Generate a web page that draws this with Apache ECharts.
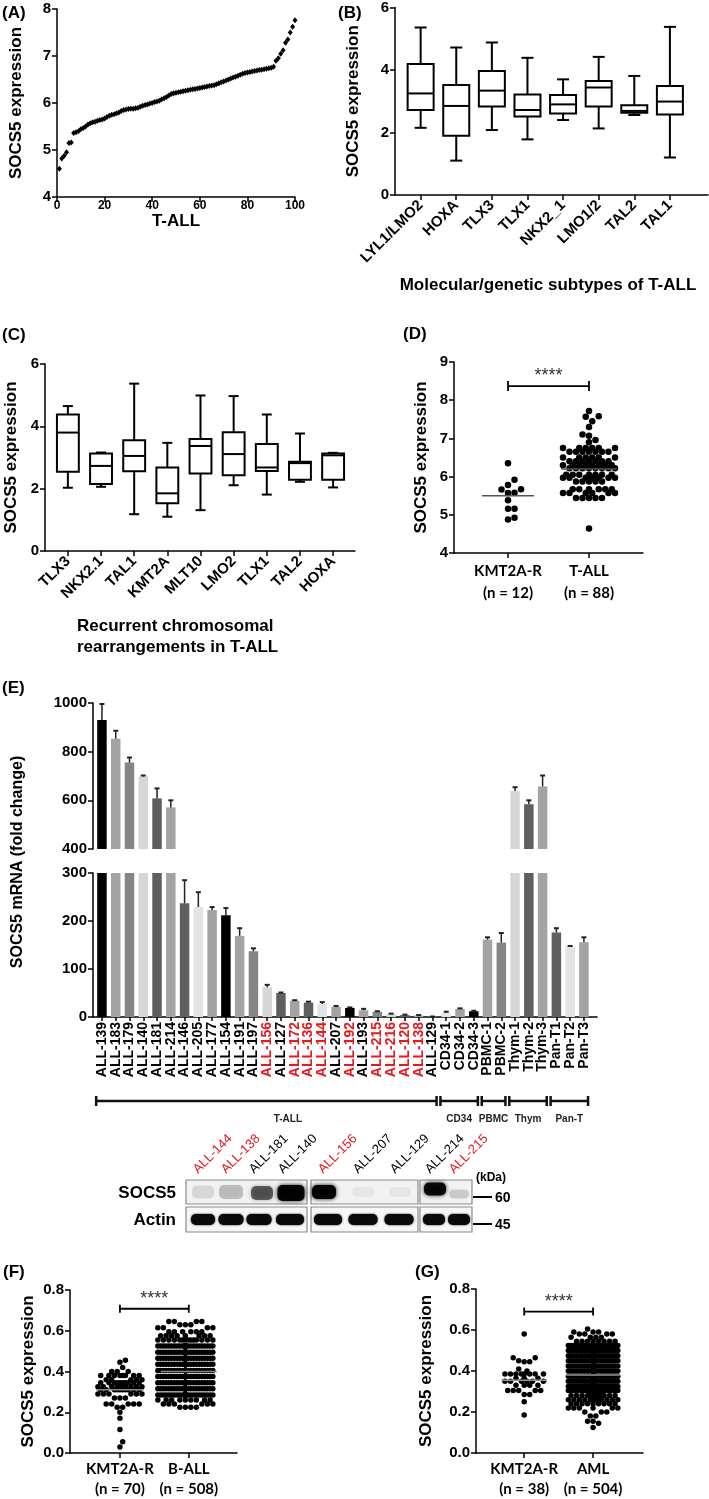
<!DOCTYPE html>
<html><head><meta charset="utf-8">
<script src="https://cdn.jsdelivr.net/npm/echarts@6/dist/echarts.min.js"></script>
<style>html,body{margin:0;padding:0;background:#fff}#c{width:709px;height:1499px}</style>
</head><body><div id="c"></div>
<script>
// ================= DATA =================
// (A) sorted SOCS5 expression, 100 T-ALL samples
const aValues = [4.60,4.82,4.88,4.95,5.15,5.16,5.36,5.38,5.40,5.44,
 5.47,5.50,5.54,5.57,5.59,5.60,5.62,5.64,5.65,5.67,
 5.70,5.73,5.75,5.76,5.78,5.80,5.83,5.85,5.86,5.87,
 5.88,5.88,5.89,5.90,5.92,5.94,5.96,5.97,5.99,6.00,
 6.02,6.03,6.05,6.08,6.10,6.13,6.16,6.19,6.21,6.22,
 6.23,6.24,6.25,6.26,6.27,6.28,6.29,6.30,6.31,6.32,
 6.33,6.34,6.35,6.36,6.37,6.38,6.40,6.42,6.44,6.46,
 6.48,6.50,6.52,6.54,6.56,6.58,6.60,6.62,6.64,6.65,
 6.66,6.67,6.68,6.69,6.70,6.71,6.72,6.73,6.74,6.75,
 6.77,6.90,6.95,7.05,7.12,7.28,7.35,7.50,7.62,7.76];

// (B) molecular/genetic subtypes – box plots
const bCategories = ['LYL1/LMO2','HOXA','TLX3','TLX1','NKX2_1','LMO1/2','TAL2','TAL1'];
const bMin    = [2.15,1.10,2.08,1.78,2.40,2.13,2.56,1.20];
const bQ1     = [2.72,1.90,2.83,2.51,2.61,2.83,2.63,2.58];
const bMedian = [3.25,2.85,3.34,2.72,2.90,3.44,2.69,2.99];
const bQ3     = [4.19,3.52,3.97,3.22,3.20,3.65,2.87,3.49];
const bMax    = [5.36,4.72,4.88,4.39,3.70,4.42,3.81,5.38];

// (C) recurrent chromosomal rearrangements – box plots
const cCategories = ['TLX3','NKX2.1','TAL1','KMT2A','MLT10','LMO2','TLX1','TAL2','HOXA'];
const cMin    = [2.03,2.06,1.18,1.10,1.31,2.11,1.81,2.22,2.04];
const cQ1     = [2.54,2.15,2.56,1.53,2.49,2.43,2.57,2.29,2.29];
const cMedian = [3.80,2.73,3.05,1.85,3.37,3.11,2.68,2.82,3.07];
const cQ3     = [4.38,3.13,3.55,2.68,3.59,3.81,3.43,2.86,3.13];
const cMax    = [4.65,3.16,5.37,3.47,4.99,4.97,4.38,3.77,3.15];

// (D) KMT2A-R vs T-ALL
const dCategories = ['KMT2A-R','T-ALL'];
const dKmt2a = [6.35,5.92,5.78,5.67,5.66,5.58,5.57,5.38,5.16,5.16,4.92,4.88];
const dTall = [7.72,7.58,7.57,7.45,7.30,7.10,7.07,6.96,6.90,
 6.75,6.75,6.75,6.75,6.75,6.75,
 6.65,6.65,6.65,6.65,6.65,6.65,6.65,
 6.50,6.50,6.50,6.50,6.50,6.50,
 6.40,6.40,6.40,6.40,6.40,6.40,6.40,
 6.30,6.30,6.30,6.30,6.30,6.30,6.30,6.30,
 6.22,6.22,6.22,6.22,6.22,6.22,6.22,6.22,
 6.05,6.05,6.05,6.05,6.05,6.05,6.05,
 5.97,5.97,5.97,5.97,5.97,5.97,5.97,
 5.87,5.87,5.87,5.87,5.87,
 5.67,5.67,5.67,5.67,5.67,5.67,
 5.57,5.57,5.57,5.57,5.57,5.57,
 5.44,5.44,5.44,5.44,5.44,
 4.64];
const dMeans = [5.50, 6.20];
const dSigY = 8.37;

// (E) qPCR fold change
const eCategories = ['ALL-139','ALL-183','ALL-179','ALL-140','ALL-181','ALL-214','ALL-146','ALL-205','ALL-177','ALL-154',
 'ALL-191','ALL-197','ALL-156','ALL-127','ALL-172','ALL-136','ALL-144','ALL-207','ALL-192','ALL-193',
 'ALL-215','ALL-216','ALL-120','ALL-138','ALL-129','CD34-1','CD34-2','CD34-3','PBMC-1','PBMC-2',
 'Thym-1','Thym-2','Thym-3','Pan-T1','Pan-T2','Pan-T3'];
const eValues = [930,853,755,698,608,571,237,229,223,212,
 169,137,62,50,34,30,27,21,19,14,
 11,6,4,3,0.5,9,17,12,161,155,
 638,584,657,176,147,156];
const eErrTop = [996,886,776,702,649,600,285,260,229,227,
 185,143,67,51,35,32,31,23,20,17,
 12,7,5,4,1,11,18,13,166,175,
 654,600,702,185,148,166];
const eRed = ['ALL-156','ALL-172','ALL-136','ALL-144','ALL-192','ALL-215','ALL-216','ALL-120','ALL-138'];
const eGroupNames = ['T-ALL','CD34','PBMC','Thym','Pan-T'];
const eGroupFirst = [0,25,28,30,33];
const eGroupLast  = [24,27,29,32,35];

// (F) KMT2A-R vs B-ALL
const fCategories = ['KMT2A-R','B-ALL'];
const fKmt2a = [0.455,0.445,0.42,0.40,0.40,0.40,
 0.38,0.38,0.38,0.38,0.38,0.38,0.38,0.38,
 0.36,0.36,0.36,0.36,0.36,
 0.345,0.345,0.345,0.345,0.345,0.345,0.345,0.345,0.345,0.345,
 0.325,0.325,0.325,0.325,0.325,0.325,0.325,0.325,0.325,0.325,
 0.31,0.31,0.31,0.31,0.31,0.31,0.31,0.31,0.31,0.31,
 0.29,0.29,0.29,0.29,0.29,0.29,
 0.27,0.27,0.27,
 0.24,0.24,0.24,0.24,0.24,
 0.225,0.225,0.20,0.17,0.115,0.055,0.03];
const fBallLevels = [0.645,0.63,0.615,0.595,0.575,0.555,0.525,0.495,0.465,0.435,0.405,0.375,0.345,0.315,0.285,0.26,0.24,0.225];
const fBallCounts = [4,3,4,6,8,14,40,50,54,56,56,54,52,48,40,9,6,4];
const fMeans = [0.31, 0.40];
const fSigY = 0.708;

// (G) KMT2A-R vs AML
const gCategories = ['KMT2A-R','AML'];
const gKmt2a = [0.58,0.465,0.465,0.45,0.445,0.445,0.41,0.40,
 0.385,0.385,0.385,0.385,0.385,0.385,0.385,0.385,
 0.365,0.365,0.365,
 0.35,0.35,0.35,0.35,0.35,0.35,
 0.33,0.33,0.33,0.33,
 0.305,0.305,0.305,0.305,0.305,
 0.285,0.285,0.25,0.185];
const gAmlLevels = [0.605,0.59,0.58,0.565,0.545,0.525,0.50,0.475,0.45,0.425,0.40,0.375,0.35,0.325,0.305,0.28,0.26,0.24,0.22,0.20,0.18,0.155,0.145,0.125];
const gAmlCounts = [1,3,4,4,8,36,44,48,50,50,50,48,46,40,24,12,12,9,6,3,2,2,1,1];
const gMeans = [0.355, 0.38];
const gSigY = 0.69;

// ================= LAYOUT / STYLE =================
const FONT = '"Liberation Sans", Arial, sans-serif';
const FONT2 = 'Lato, "Liberation Sans", sans-serif';
const RED = '#e8191e';
const eColors = ['#000','#a3a3a3','#858585','#d6d6d6','#5f5f5f','#a3a3a3','#5f5f5f','#e3e3e3','#a3a3a3','#000',
 '#a3a3a3','#858585','#d6d6d6','#5f5f5f','#a3a3a3','#5f5f5f','#e3e3e3','#a3a3a3','#000','#a3a3a3',
 '#858585','#d6d6d6','#5f5f5f','#a3a3a3','#e3e3e3','#e6e6e6','#a3a3a3','#000','#a3a3a3','#858585',
 '#d6d6d6','#5f5f5f','#a3a3a3','#5f5f5f','#e3e3e3','#a3a3a3'];
const eGroupLabelAt = [13.5, null, null, null, null];

const GR = {
  A:{left:57,top:9,width:238,height:188},
  B:{left:395,top:7,width:313,height:188},
  C:{left:45,top:364,width:310,height:187},
  D:{left:454,top:362,width:189,height:191},
  Et:{left:93,top:703,width:504,height:146},
  Eb:{left:93,top:873,width:504,height:144},
  F:{left:70,top:1290,width:167,height:166},
  G:{left:476,top:1289,width:167,height:166}
};
const XR = {A:[0,100],B:[-0.72,8.07],C:[-0.69,8.66],D:[-0.667,1.667],E:[-0.65,35.95],F:[-0.725,1.70],G:[-0.70,1.725]};
const YR = {A:[4,8,1],B:[0,6,2],C:[0,6,2],D:[4,9,1],Et:[400,1000,200],Eb:[0,300,100],F:[0,0.8,0.2],G:[0,0.8,0.2]};

function seq(n){return Array.from({length:n},(_,i)=>i);}
function expand(levels,counts){const o=[];levels.forEach((v,i)=>{for(let k=0;k<counts[i];k++)o.push(v);});return o;}

function beeswarm(values, center, pxX, pxY, d, halfW){
  const order = values.map((v,i)=>i).sort((a,b)=>values[a]-values[b]);
  const placed=[]; const out=new Array(values.length);
  const step=d/2; const n=Math.floor(halfW/step);
  const cands=[0]; for(let k=1;k<=n;k++){cands.push(k*step,-k*step);}
  for(const i of order){
    const y=values[i]*pxY; let best=0, bestScore=-1;
    for(const c of cands){
      let minD=Infinity;
      for(const p of placed){const dy=p.y-y; if(Math.abs(dy)>=d) continue; const dx=p.x-c; const dd=Math.sqrt(dx*dx+dy*dy); if(dd<minD) minD=dd;}
      if(minD>=d*0.98){best=c;bestScore=Infinity;break;}
      if(minD>bestScore){bestScore=minD;best=c;}
    }
    placed.push({x:best,y});
    out[i]=[center+best/pxX, values[i]];
  }
  return out;
}

function axis(o){
  const a={type:'value',gridIndex:o.grid,min:o.min,max:o.max,
    axisLine:{show:true,onZero:false,lineStyle:{color:'#000',width:1.5}},
    axisTick:Object.assign({show:true,length:5,lineStyle:{color:'#000',width:1.5}},o.tick||{}),
    axisLabel:Object.assign({color:'#000',fontWeight:'bold',fontSize:15,fontFamily:FONT,margin:6,showMinLabel:true,showMaxLabel:true,hideOverlap:false},o.label||{}),
    splitLine:{show:false}};
  if(o.interval!=null) a.interval=o.interval;
  if(o.name){a.name=o.name;a.nameLocation='middle';a.nameGap=o.nameGap;a.nameTextStyle=Object.assign({color:'#000',fontWeight:'bold',fontSize:17,fontFamily:FONT},o.nameStyle||{});}
  if(o.show===false) a.show=false;
  return a;
}

function boxRender(frac, cap){
  return function(params, api){
    const x=api.value(0);
    const p=[1,2,3,4,5].map(k=>api.coord([x,api.value(k)]));
    const cx=p[0][0]; const bw=api.size([1,0])[0]*frac; const hw=bw/2;
    const st={stroke:'#000',lineWidth:2};
    return {type:'group',children:[
      {type:'line',shape:{x1:cx,y1:p[3][1],x2:cx,y2:p[4][1]},style:st},
      {type:'line',shape:{x1:cx-cap,y1:p[4][1],x2:cx+cap,y2:p[4][1]},style:st},
      {type:'line',shape:{x1:cx,y1:p[1][1],x2:cx,y2:p[0][1]},style:st},
      {type:'line',shape:{x1:cx-cap,y1:p[0][1],x2:cx+cap,y2:p[0][1]},style:st},
      {type:'rect',shape:{x:cx-hw,y:p[3][1],width:bw,height:p[1][1]-p[3][1]},style:{stroke:'#000',lineWidth:2,fill:'#fff'}},
      {type:'line',shape:{x1:cx-hw,y1:p[2][1],x2:cx+hw,y2:p[2][1]},style:st}
    ]};
  };
}
function meanRender(hws, color){
  return function(params, api){
    const p=api.coord([api.value(0),api.value(1)]); const hw=hws[params.dataIndex];
    return {type:'line',shape:{x1:p[0]-hw,y1:p[1],x2:p[0]+hw,y2:p[1]},style:{stroke:color,lineWidth:1.5}};
  };
}
function sigRender(tick, starOff){
  return function(params, api){
    const p0=api.coord([api.value(0),api.value(2)]); const p1=api.coord([api.value(1),api.value(2)]);
    const st={stroke:'#000',lineWidth:1.8};
    return {type:'group',children:[
      {type:'line',shape:{x1:p0[0],y1:p0[1],x2:p1[0],y2:p1[1]},style:st},
      {type:'line',shape:{x1:p0[0],y1:p0[1]-tick,x2:p0[0],y2:p0[1]+tick},style:st},
      {type:'line',shape:{x1:p1[0],y1:p1[1]-tick,x2:p1[0],y2:p1[1]+tick},style:st},
      {type:'text',style:{text:'****',x:(p0[0]+p1[0])/2,y:p0[1]-starOff,align:'center',verticalAlign:'middle',fill:'#333',font:'18px '+FONT}}
    ]};
  };
}
function eBarRender(lo, hi){
  return function(params, api){
    const i=params.dataIndex; const x=api.value(0), v=api.value(1), e=api.value(2);
    if(v<=lo) return {type:'group',children:[]};
    const top=Math.min(v,hi);
    const p0=api.coord([x,lo]); const p1=api.coord([x,top]);
    const bw=api.size([1,0])[0]*0.69;
    const ch=[{type:'rect',shape:{x:p0[0]-bw/2,y:p1[1],width:bw,height:p0[1]-p1[1]},style:{fill:eColors[i]}}];
    if(v<=hi){
      const pe=api.coord([x,Math.min(e,hi)]);
      const st={stroke:'#222',lineWidth:1.5};
      ch.push({type:'line',shape:{x1:p1[0],y1:p1[1],x2:pe[0],y2:pe[1]},style:st});
      ch.push({type:'line',shape:{x1:pe[0]-2.5,y1:pe[1],x2:pe[0]+2.5,y2:pe[1]},style:{stroke:'#222',lineWidth:2}});
    }
    return {type:'group',children:ch};
  };
}
function eLabelRender(params, api){
  const p=api.coord([api.value(0),0]); const name=eCategories[params.dataIndex];
  return {type:'text',x:p[0],y:p[1]+5,rotation:Math.PI/2,
    style:{text:name,align:'right',verticalAlign:'middle',fill:eRed.indexOf(name)>=0?RED:'#000',font:'bold 14px '+FONT}};
}
function bracketRender(params, api){
  const k=params.dataIndex; const s=api.value(0), e=api.value(1);
  const p0=api.coord([s-0.42,0]); const p1=api.coord([e+0.3,0]);
  const y=p0[1]+84;
  const st={stroke:'#111',lineWidth:2.5};
  const lx = eGroupLabelAt[k]!=null ? api.coord([eGroupLabelAt[k],0])[0] : (p0[0]+p1[0])/2;
  return {type:'group',children:[
    {type:'line',shape:{x1:p0[0],y1:y,x2:p1[0],y2:y},style:st},
    {type:'line',shape:{x1:p0[0],y1:y-5,x2:p0[0],y2:y+5},style:st},
    {type:'line',shape:{x1:p1[0],y1:y-5,x2:p1[0],y2:y+5},style:st},
    {type:'text',style:{text:eGroupNames[k],x:lx,y:y+18,align:'center',verticalAlign:'middle',fill:'#222',font:'bold 10px '+FONT}}
  ]};
}

function pxX(g,k){return GR[g].width/(XR[k][1]-XR[k][0]);}
function pxY(g){return GR[g].height/(YR[g][1]-YR[g][0]);}

const fBall = expand(fBallLevels, fBallCounts);
const gAml = expand(gAmlLevels, gAmlCounts);

// ================= AXES =================
const grids = ['A','B','C','D','Et','Eb','F','G'].map(k=>Object.assign({},GR[k]));
const catLabel = (cats, extra)=>Object.assign({customValues:seq(cats.length),formatter:v=>cats[v]}, extra||{});
const xAxes = [
  axis({grid:0,min:0,max:100,interval:20,label:{fontSize:12,margin:3},name:'T-ALL',nameGap:8}),
  axis({grid:1,min:XR.B[0],max:XR.B[1],tick:{customValues:seq(8)},label:catLabel(bCategories,{rotate:45,margin:8})}),
  axis({grid:2,min:XR.C[0],max:XR.C[1],tick:{customValues:seq(9)},label:catLabel(cCategories,{rotate:45,margin:8})}),
  axis({grid:3,min:XR.D[0],max:XR.D[1],tick:{customValues:seq(2)},label:catLabel(dCategories,{formatter:v=>dCategories[v]+'\n(n = '+[dKmt2a,dTall][v].length+')',fontFamily:FONT2,fontSize:15,lineHeight:22,margin:7})}),
  axis({grid:4,min:XR.E[0],max:XR.E[1],show:false}),
  axis({grid:5,min:XR.E[0],max:XR.E[1],tick:{customValues:seq(36),length:4},label:{show:false}}),
  axis({grid:6,min:XR.F[0],max:XR.F[1],tick:{customValues:seq(2)},label:catLabel(fCategories,{formatter:v=>fCategories[v]+'\n(n = '+[fKmt2a,fBall][v].length+')',fontFamily:FONT2,fontSize:15,lineHeight:20,margin:6})}),
  axis({grid:7,min:XR.G[0],max:XR.G[1],tick:{customValues:seq(2)},label:catLabel(gCategories,{formatter:v=>gCategories[v]+'\n(n = '+[gKmt2a,gAml][v].length+')',fontFamily:FONT2,fontSize:15,lineHeight:20,margin:6})})
];
const plain = {formatter:v=>String(v)};
const yAxes = [
  axis({grid:0,min:YR.A[0],max:YR.A[1],interval:YR.A[2],name:'SOCS5 expression',nameGap:32}),
  axis({grid:1,min:YR.B[0],max:YR.B[1],interval:YR.B[2],name:'SOCS5 expression',nameGap:33}),
  axis({grid:2,min:YR.C[0],max:YR.C[1],interval:YR.C[2],name:'SOCS5 expression',nameGap:25}),
  axis({grid:3,min:YR.D[0],max:YR.D[1],interval:YR.D[2],name:'SOCS5 expression',nameGap:24}),
  axis({grid:4,min:YR.Et[0],max:YR.Et[1],interval:YR.Et[2],label:plain}),
  axis({grid:5,min:YR.Eb[0],max:YR.Eb[1],interval:YR.Eb[2],label:plain}),
  axis({grid:6,min:YR.F[0],max:YR.F[1],interval:YR.F[2],label:{formatter:v=>v.toFixed(1)},name:'SOCS5 expression',nameGap:33}),
  axis({grid:7,min:YR.G[0],max:YR.G[1],interval:YR.G[2],label:{formatter:v=>v.toFixed(1)},name:'SOCS5 expression',nameGap:41})
];

// ================= SERIES =================
const dot = {color:'#000',opacity:1};
const series = [
  {type:'scatter',xAxisIndex:0,yAxisIndex:0,data:aValues.map((v,i)=>[i+1,v]),symbol:'diamond',symbolSize:[5,6],itemStyle:dot,silent:true},
  {type:'custom',xAxisIndex:1,yAxisIndex:1,renderItem:boxRender(0.73,6),encode:{x:0,y:[1,2,3,4,5]},
    data:bCategories.map((c,i)=>[i,bMin[i],bQ1[i],bMedian[i],bQ3[i],bMax[i]])},
  {type:'custom',xAxisIndex:2,yAxisIndex:2,renderItem:boxRender(0.66,5),encode:{x:0,y:[1,2,3,4,5]},
    data:cCategories.map((c,i)=>[i,cMin[i],cQ1[i],cMedian[i],cQ3[i],cMax[i]])},
  {type:'scatter',xAxisIndex:3,yAxisIndex:3,data:beeswarm(dKmt2a,0,pxX('D','D'),pxY('D'),6.5,27),symbolSize:6.5,itemStyle:dot,silent:true},
  {type:'scatter',xAxisIndex:3,yAxisIndex:3,data:beeswarm(dTall,1,pxX('D','D'),pxY('D'),6.5,29),symbolSize:6.5,itemStyle:dot,silent:true},
  {type:'custom',xAxisIndex:3,yAxisIndex:3,z:5,renderItem:meanRender([26,28],'#555'),data:dMeans.map((m,i)=>[i,m])},
  {type:'custom',xAxisIndex:3,yAxisIndex:3,renderItem:sigRender(5,10),data:[[0,1,dSigY]]},
  {type:'custom',xAxisIndex:4,yAxisIndex:4,renderItem:eBarRender(YR.Et[0],YR.Et[1]),data:eValues.map((v,i)=>[i,v,eErrTop[i]])},
  {type:'custom',xAxisIndex:5,yAxisIndex:5,renderItem:eBarRender(YR.Eb[0],YR.Eb[1]),data:eValues.map((v,i)=>[i,v,eErrTop[i]])},
  {type:'custom',xAxisIndex:5,yAxisIndex:5,renderItem:eLabelRender,data:eCategories.map((c,i)=>[i,0])},
  {type:'custom',xAxisIndex:5,yAxisIndex:5,renderItem:bracketRender,data:eGroupFirst.map((s,i)=>[s,eGroupLast[i]])},
  {type:'scatter',xAxisIndex:6,yAxisIndex:6,data:beeswarm(fKmt2a,0,pxX('F','F'),pxY('F'),5.5,24),symbolSize:5.5,itemStyle:dot,silent:true},
  {type:'scatter',xAxisIndex:6,yAxisIndex:6,data:beeswarm(fBall,0.95,pxX('F','F'),pxY('F'),5.5,28),symbolSize:5.5,itemStyle:dot,silent:true},
  {type:'custom',xAxisIndex:6,yAxisIndex:6,z:5,renderItem:meanRender([24,28],'#8a8a8a'),data:fMeans.map((m,i)=>[i,m])},
  {type:'custom',xAxisIndex:6,yAxisIndex:6,renderItem:sigRender(4,10),data:[[0,1,fSigY]]},
  {type:'scatter',xAxisIndex:7,yAxisIndex:7,data:beeswarm(gKmt2a,0,pxX('G','G'),pxY('G'),5.5,24),symbolSize:5.5,itemStyle:dot,silent:true},
  {type:'scatter',xAxisIndex:7,yAxisIndex:7,data:beeswarm(gAml,1,pxX('G','G'),pxY('G'),5.5,27),symbolSize:5.5,itemStyle:dot,silent:true},
  {type:'custom',xAxisIndex:7,yAxisIndex:7,z:5,renderItem:meanRender([23,27],'#999'),data:gMeans.map((m,i)=>[i,m])},
  {type:'custom',xAxisIndex:7,yAxisIndex:7,renderItem:sigRender(4,10),data:[[0,1,gSigY]]}
];

// ================= GRAPHIC (labels, western blot) =================
function txt(x,y,text,font,opt){
  opt=opt||{};
  return {type:'text',x:x,y:y,rotation:opt.rot||0,silent:true,
    style:{text:text,font:font,fill:opt.fill||'#000',align:opt.align||'left',verticalAlign:opt.va||'middle',
      textAlign:opt.align||'left',textVerticalAlign:opt.va||'middle',lineHeight:opt.lh}};
}
const PF = 'bold 17px '+FONT;
const gfx = [
  txt(2,13,'(A)',PF), txt(338,13,'(B)',PF), txt(2,335,'(C)',PF), txt(403,334,'(D)',PF),
  txt(2,688,'(E)',PF), txt(3,1272,'(F)',PF), txt(415,1272,'(G)',PF),
  txt(77,616,'Recurrent chromosomal\nrearrangements in T-ALL','bold 17px '+FONT,{va:'top',lh:21}),
  txt(548,285,'Molecular/genetic subtypes of T-ALL','bold 17px '+FONT,{align:'center'}),
  txt(18,862,'SOCS5 mRNA (fold change)','bold 16px '+FONT,{align:'center',rot:Math.PI/2})
];
// blot frames
const boxes=[[186,307],[311,418],[420,472]];
boxes.forEach(b=>{
  gfx.push({type:'rect',silent:true,shape:{x:b[0],y:1180,width:b[1]-b[0],height:24},style:{fill:'#f2f2f2',stroke:'#8a8a8a',lineWidth:1.2}});
  gfx.push({type:'rect',silent:true,shape:{x:b[0],y:1207,width:b[1]-b[0],height:25},style:{fill:'#f6f6f6',stroke:'#8a8a8a',lineWidth:1.2}});
});
const socsBands=[[203,1192,22,13,0.10],[231,1192,24,14,0.2],[262,1193,22,14,0.55],[291,1193,27,16,0.95],[324,1192,24,14,0.95],
  [363,1192,22,10,0.05],[400,1192,22,10,0.05],[435,1189,22,13,0.9],[459,1194,20,9,0.15]];
socsBands.forEach(s=>gfx.push({type:'rect',silent:true,shape:{x:s[0]-s[2]/2,y:s[1]-s[3]/2,width:s[2],height:s[3],r:5},
  style:{fill:'rgba(0,0,0,'+s[4]+')',shadowBlur:4,shadowColor:'rgba(0,0,0,'+s[4]+')'}}));
const actinBands=[[203,24],[231,25],[259,25],[290,28],[328,28],[363,29],[399,29],[434,22],[459,22]];
actinBands.forEach(a=>gfx.push({type:'rect',silent:true,shape:{x:a[0]-a[1]/2,y:1214,width:a[1],height:11,r:5},
  style:{fill:'#0a0a0a',shadowBlur:2,shadowColor:'#000'}}));
gfx.push(txt(176,1193,'SOCS5','bold 17px '+FONT,{align:'right'}));
gfx.push(txt(176,1220,'Actin','bold 17px '+FONT,{align:'right'}));
gfx.push(txt(476,1178,'(kDa)','bold 12px '+FONT));
gfx.push({type:'line',silent:true,shape:{x1:473,y1:1197,x2:492,y2:1197},style:{stroke:'#000',lineWidth:2}});
gfx.push({type:'line',silent:true,shape:{x1:473,y1:1224,x2:492,y2:1224},style:{stroke:'#000',lineWidth:2}});
gfx.push(txt(495,1198,'60','bold 14px '+FONT));
gfx.push(txt(495,1225,'45','bold 14px '+FONT));
const blotLanes=[['ALL-144',200,true],['ALL-138',228,true],['ALL-181',256,false],['ALL-140',285,false],['ALL-156',325,true],
  ['ALL-207',360,false],['ALL-129',397,false],['ALL-214',432,false],['ALL-215',456,true]];
blotLanes.forEach(l=>gfx.push(txt(l[1],1176,l[0],'13px '+FONT,{rot:Math.PI/4,va:'bottom',fill:l[2]?RED:'#000'})));

const chart = echarts.init(document.getElementById('c'),null,{renderer:'canvas'});
chart.setOption({animation:false,backgroundColor:'#fff',grid:grids,xAxis:xAxes,yAxis:yAxes,series:series,graphic:{elements:gfx}});
</script></body></html>
